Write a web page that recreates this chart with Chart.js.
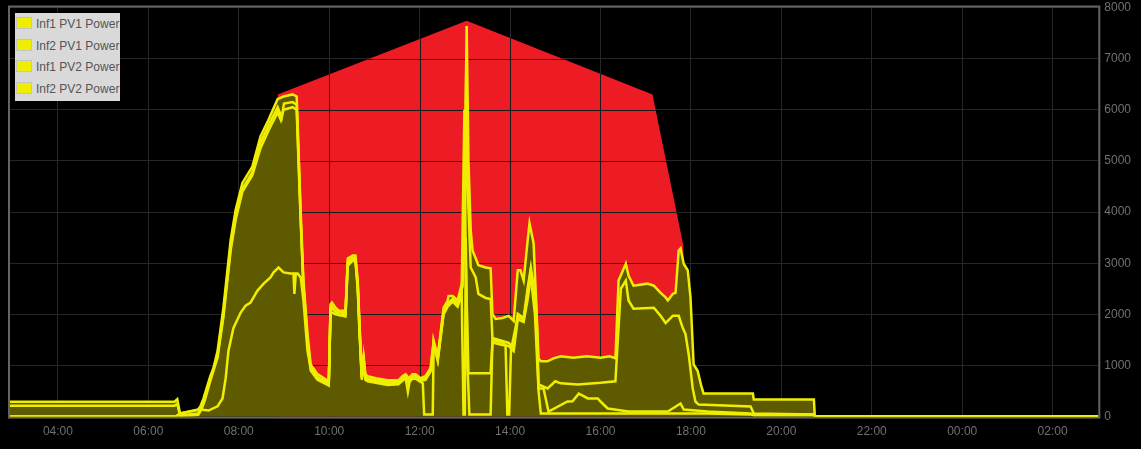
<!DOCTYPE html>
<html>
<head>
<meta charset="utf-8">
<script src="https://cdn.jsdelivr.net/npm/chart.js@4.4.1/dist/chart.umd.min.js"></script>
<style>
  body { margin: 0; background: #000; }
  #wrap { position: relative; width: 1141px; height: 449px; }
  #legend {
    position: absolute; left: 15px; top: 13px; width: 105px; height: 88px;
    background: #d9d9d9; font: 12px "Liberation Sans", Arial, sans-serif; color: #555;
  }
  #legend div { position: absolute; left: 1px; height: 14px; line-height: 14px; white-space: nowrap; }
  #legend span.sw {
    display: inline-block; width: 14px; height: 10px; background: #f0ee00;
    border: 1px solid #c4c4c4; vertical-align: -1px; margin-right: 4px;
  }
</style>
</head>
<body>
<div id="wrap">
  <canvas id="chart" width="1141" height="449"></canvas>
  <div id="legend"></div>
</div>
<script>
// x values are hours of the day (24+ = after midnight), y values are watts
const seriesNames = ['Inf1 PV1 Power', 'Inf2 PV1 Power', 'Inf1 PV2 Power', 'Inf2 PV2 Power'];
const hourTicks = [4, 6, 8, 10, 12, 14, 16, 18, 20, 22, 24, 26];

const inf1Pv1 = [[2.94,290],[6.58,290],[6.64,340],[6.70,60],[7.10,140],[7.15,200],[7.22,355],[7.37,790],[7.44,945],[7.53,1280],[7.66,2130],[7.82,3450],[7.93,4040],[8.08,4570],[8.30,4890],[8.48,5480],[8.66,5810],[8.86,6210],[8.99,6260],[9.19,6300],[9.28,6260],[9.32,5280],[9.37,3980],[9.43,2660],[9.52,1615],[9.59,1020],[9.74,830],[9.92,730],[9.99,690],[10.03,2200],[10.06,2230],[10.14,2130],[10.21,2070],[10.36,2070],[10.41,3090],[10.52,3150],[10.58,3150],[10.63,2660],[10.67,1810],[10.72,830],[10.76,1180],[10.80,830],[10.85,790],[11.03,750],[11.29,710],[11.53,710],[11.62,790],[11.69,830],[11.76,750],[11.84,830],[11.91,830],[12.02,750],[12.13,790],[12.24,945],[12.31,1480],[12.40,1180],[12.53,2130],[12.62,2270],[12.64,2360],[12.73,2360],[12.84,2270],[12.95,2660],[13.00,5000],[13.04,7640],[13.08,5000],[13.13,3640],[13.17,3250],[13.30,2960],[13.46,2915],[13.57,2900],[13.61,2010],[13.68,1910],[13.83,1930],[13.97,1970],[14.08,1870],[14.17,2860],[14.23,2860],[14.30,2660],[14.39,3450],[14.43,3780],[14.52,3390],[14.57,2400],[14.63,1140],[14.68,1080],[14.83,1080],[14.96,1140],[15.12,1180],[15.40,1150],[15.70,1180],[16.00,1150],[16.20,1180],[16.33,1140],[16.40,2660],[16.56,2990],[16.62,2760],[16.73,2560],[17.04,2600],[17.18,2560],[17.33,2420],[17.44,2330],[17.49,2270],[17.60,2400],[17.66,2420],[17.73,3250],[17.77,3290],[17.84,2990],[17.93,2860],[17.99,2330],[18.06,1020],[18.15,890],[18.22,630],[18.28,450],[19.37,450],[19.39,335],[20.72,335],[20.74,0],[27.01,0]];

const inf2Pv1 = [[2.94,210],[6.58,210],[6.64,250],[6.70,20],[7.10,60],[7.18,200],[7.25,380],[7.37,740],[7.53,1200],[7.66,2000],[7.82,3300],[7.93,3900],[8.08,4450],[8.30,4780],[8.48,5350],[8.66,5700],[8.86,6050],[8.95,5850],[9.00,6120],[9.19,6150],[9.28,6100],[9.32,5100],[9.37,3850],[9.43,2550],[9.52,1500],[9.59,950],[9.74,760],[9.92,670],[9.99,640],[10.03,2100],[10.06,2150],[10.14,2050],[10.21,1990],[10.36,2000],[10.41,3000],[10.52,3080],[10.58,3080],[10.63,2550],[10.67,1700],[10.72,760],[10.76,1100],[10.80,760],[10.85,720],[11.03,690],[11.29,650],[11.53,660],[11.62,720],[11.69,760],[11.74,490],[11.78,700],[11.84,760],[11.91,760],[12.02,700],[12.13,720],[12.24,880],[12.31,1400],[12.40,1100],[12.53,2050],[12.62,2200],[12.73,2300],[12.84,2200],[12.95,2550],[13.00,4000],[13.03,6700],[13.06,4500],[13.13,2915],[13.24,2720],[13.30,2400],[13.46,2320],[13.57,2300],[13.61,1540],[13.83,1480],[13.97,1440],[14.08,1340],[14.17,2010],[14.30,1930],[14.39,2520],[14.46,2915],[14.57,2270],[14.60,1615],[14.63,630],[14.83,550],[15.00,690],[15.12,650],[15.50,630],[16.00,660],[16.33,690],[16.45,2500],[16.56,2660],[16.62,2270],[16.73,2110],[17.18,2130],[17.33,1970],[17.44,1830],[17.60,1970],[17.73,1970],[17.82,1730],[17.88,1615],[17.95,1220],[18.04,550],[18.10,295],[18.17,236],[19.32,197],[19.39,60],[20.72,40],[20.74,0],[27.01,0]];

const inf1Pv2 = [[2.94,0],[6.60,0],[6.70,60],[7.15,140],[7.33,118],[7.53,200],[7.64,355],[7.71,750],[7.77,1280],[7.88,1730],[8.04,2030],[8.15,2170],[8.26,2230],[8.41,2460],[8.55,2600],[8.70,2720],[8.77,2820],[8.88,2915],[8.99,2820],[9.14,2800],[9.21,2800],[9.23,2400],[9.26,2800],[9.30,2800],[9.37,2720],[9.43,2270],[9.52,1280],[9.59,945],[9.74,770],[9.92,690],[9.99,660],[10.03,2130],[10.14,2060],[10.36,2020],[10.41,3020],[10.52,3100],[10.58,3100],[10.63,2600],[10.67,1750],[10.72,790],[10.76,1120],[10.80,790],[10.85,740],[11.03,710],[11.29,670],[11.53,670],[11.62,750],[11.69,790],[11.76,710],[11.84,790],[11.91,790],[12.02,720],[12.13,750],[12.24,900],[12.31,1450],[12.40,1150],[12.53,2050],[12.62,2200],[12.73,2300],[12.84,2200],[12.93,2500],[12.99,6000],[13.02,3000],[13.08,850],[13.57,850],[13.61,1450],[13.83,1400],[13.97,1380],[14.08,1280],[14.17,1900],[14.30,1850],[14.39,2300],[14.46,2750],[14.57,2100],[14.63,550],[14.74,550],[14.85,98],[15.27,295],[15.38,300],[15.52,450],[15.72,355],[15.94,355],[16.00,295],[16.16,158],[16.62,98],[17.49,98],[17.77,256],[17.84,138],[18.37,100],[19.32,60],[19.39,20],[20.72,20],[20.74,0],[27.01,0]];

const inf2Pv2 = [[2.94,0],[6.60,0],[6.70,0],[7.10,30],[7.18,150],[7.25,320],[7.37,700],[7.53,1150],[7.66,1950],[7.82,3250],[7.93,3850],[8.08,4400],[8.30,4720],[8.48,5250],[8.66,5600],[8.86,5950],[8.93,5800],[8.99,6000],[9.19,6050],[9.28,6000],[9.32,5000],[9.37,3800],[9.43,2500],[9.52,1450],[9.59,900],[9.74,720],[9.92,640],[9.99,610],[10.03,2050],[10.14,2000],[10.36,1960],[10.41,2950],[10.52,3050],[10.58,3030],[10.63,2500],[10.67,1650],[10.72,720],[10.76,1050],[10.80,720],[10.85,690],[11.03,660],[11.29,620],[11.53,630],[11.62,700],[11.69,740],[11.76,660],[11.84,740],[11.91,740],[12.02,680],[12.07,650],[12.10,40],[12.29,40],[12.31,1450],[12.40,1100],[12.53,2000],[12.62,2150],[12.73,2250],[12.84,2150],[12.93,2400],[12.97,40],[13.00,40],[13.02,3500],[13.06,1000],[13.10,40],[13.57,40],[13.61,1500],[13.83,1450],[13.90,1400],[13.94,40],[13.98,40],[14.02,1300],[14.17,1950],[14.30,1900],[14.39,2400],[14.45,2800],[14.55,2000],[14.63,500],[14.68,60],[16.16,60],[17.70,60],[18.37,60],[19.32,40],[20.72,40],[20.74,0],[27.01,0]];

// red envelope behind the PV curves
const envelope = [[8.86,6300],[13.04,7740],[17.15,6300],[17.84,3310]];

const YELLOW = '#f0ee00';
const OLIVE = '#5e5a00';
const RED = '#ed1c24';
const GRID = '#262626';

const toXY = arr => arr.map(p => ({x: p[0], y: p[1]}));
const allSeries = [inf1Pv1, inf2Pv1, inf1Pv2, inf2Pv2];

const datasets = [];
allSeries.forEach((s, i) => {
  datasets.push({ label: seriesNames[i], data: toXY(s), borderColor: YELLOW, borderWidth: 2.5,
    fill: false, pointRadius: 0, tension: 0, order: 0 });
});
allSeries.forEach((s, i) => {
  datasets.push({ label: seriesNames[i] + ' fill', data: toXY(s), borderWidth: 0, borderColor: 'transparent',
    backgroundColor: OLIVE, fill: 'origin', pointRadius: 0, tension: 0, order: 1 });
});
datasets.push({ label: 'envelope', data: toXY(envelope), borderWidth: 0, borderColor: 'transparent',
  backgroundColor: RED, fill: 'origin', pointRadius: 0, tension: 0, order: 2 });
const RED_INDEX = datasets.length - 1;

// grid lines drawn again on top of the red area, under the olive fills
const redGrid = {
  id: 'redGrid',
  afterDatasetDraw(chart, args) {
    if (args.index !== RED_INDEX) return;
    const {ctx, chartArea, scales} = chart;
    const pts = args.meta.data;
    const y0 = scales.y.getPixelForValue(0);
    ctx.save();
    ctx.beginPath();
    ctx.moveTo(pts[0].x, y0);
    pts.forEach(p => ctx.lineTo(p.x, p.y));
    ctx.lineTo(pts[pts.length - 1].x, y0);
    ctx.closePath();
    ctx.clip();
    ctx.strokeStyle = '#1a1a1a';
    ctx.lineWidth = 1;
    ctx.beginPath();
    scales.x.ticks.forEach(t => {
      const x = Math.round(scales.x.getPixelForValue(t.value)) + 0.5;
      ctx.moveTo(x, chartArea.top); ctx.lineTo(x, chartArea.bottom);
    });
    scales.y.ticks.forEach(t => {
      const y = Math.round(scales.y.getPixelForValue(t.value)) + 0.5;
      ctx.moveTo(chartArea.left, y); ctx.lineTo(chartArea.right, y);
    });
    ctx.stroke();
    ctx.restore();
  }
};

const frame = {
  id: 'frame',
  beforeDatasetsDraw(chart) {
    const a = chart.chartArea, ctx = chart.ctx;
    ctx.save();
    ctx.strokeStyle = '#646464';
    ctx.lineWidth = 2;
    ctx.strokeRect(a.left - 1, a.top - 1, a.right - a.left + 2, a.bottom - a.top + 2);
    ctx.restore();
  }
};

new Chart(document.getElementById('chart'), {
  type: 'line',
  data: { datasets: datasets },
  options: {
    responsive: false,
    animation: false,
    devicePixelRatio: 1,
    layout: { padding: { left: 10, top: 7.5, right: 4, bottom: 2 } },
    plugins: { legend: { display: false }, tooltip: { enabled: false } },
    scales: {
      x: {
        type: 'linear', min: 2.94, max: 27.01,
        afterBuildTicks: scale => { scale.ticks = hourTicks.map(v => ({ value: v })); },
        ticks: {
          color: '#707070', padding: 8, maxRotation: 0, autoSkip: false,
          font: { family: '"Liberation Sans", Arial, sans-serif', size: 12 },
          callback: v => String(v % 24).padStart(2, '0') + ':00'
        },
        grid: { color: GRID, drawTicks: false },
        border: { display: false }
      },
      y: {
        position: 'right', min: 0, max: 8000,
        afterFit: scale => { scale.paddingTop = 0; scale.paddingBottom = 0; },
        ticks: {
          stepSize: 1000, color: '#707070', padding: 6,
          font: { family: '"Liberation Sans", Arial, sans-serif', size: 12 },
          callback: v => String(v)
        },
        grid: { color: GRID, drawTicks: false },
        border: { display: false }
      }
    }
  },
  plugins: [redGrid, frame]
});

// html legend
const legend = document.getElementById('legend');
seriesNames.forEach((name, i) => {
  const row = document.createElement('div');
  row.style.top = (4 + i * 21.7) + 'px';
  row.innerHTML = '<span class="sw"></span>' + name;
  legend.appendChild(row);
});
</script>
</body>
</html>
